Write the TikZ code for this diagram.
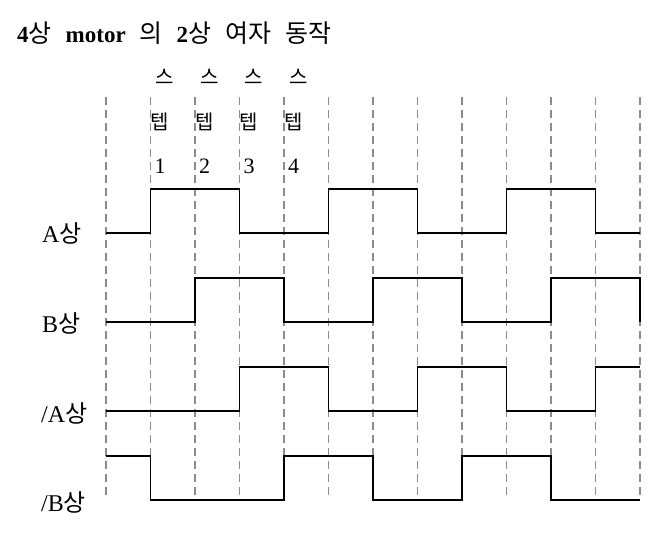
\documentclass[tikz,border=0pt]{standalone}
\usepackage{fontspec}
\setmainfont{Liberation Serif}
\newfontfamily\kr{Noto Sans CJK KR}
\usetikzlibrary{positioning}

\newcommand{\hkr}[1]{{\kr\mdseries\fontsize{25}{25}\selectfont #1}}
\newcommand{\gap}{\hspace{14pt}}

\begin{document}
\begin{tikzpicture}[
    x=1pt, y=-1pt,
    grid/.style={draw=gray!90, line width=1.2pt, dash pattern=on 8pt off 5pt},
    wave/.style={draw=black, line width=1.8pt, line join=miter},
    lbl/.style={anchor=west, inner sep=0pt, font=\fontsize{24}{24}\selectfont},
    steptxt/.style={inner sep=0pt, font=\fontsize{20}{20}\selectfont},
    numtxt/.style={inner sep=0pt, font=\fontsize{22}{22}\selectfont},
    title/.style={anchor=west, inner sep=0pt, font=\fontsize{23}{23}\selectfont\bfseries}
]
    \useasboundingbox (0,0) rectangle (661,535);

    % Title
    \node [title] (head) at (17,33) {4\hkr{상}\gap motor\gap\hkr{의}\gap 2\hkr{상}\gap\hkr{여자}\gap\hkr{동작}};

    % Step labels
    \foreach \i/\n in {1/1, 2/2, 3/3, 4/4} {
        \node [steptxt] (s\n) at (120.5+44.5*\i,77) {\kr 스};
        \node [steptxt] (t\n) at (115.5+44.5*\i,122) {\kr 텝};
        \node [numtxt] (n\n) at (115.5+44.5*\i,166) {\n};
    }

    % Phase labels
    \node [lbl] (pa) at (42,233) {A{\kr 상}};
    \node [lbl] (pb) at (42,323) {B{\kr 상}};
    \node [lbl] (pna) at (41,413) {/A{\kr 상}};
    \node [lbl] (pnb) at (41,502) {/B{\kr 상}};

    % Grid
    \foreach \i in {0,...,12}
        \draw [grid] (106+44.5*\i,97) -- (106+44.5*\i,497);

    % Waves
    \begin{scope}[shift={(106pt,0pt)}, x=44.5pt]
        \draw [wave] (0,233) -- (1,233) -- (1,189) -- (3,189) -- (3,233) -- (5,233) -- (5,189) -- (7,189)
            -- (7,233) -- (9,233) -- (9,189) -- (11,189) -- (11,233) -- (12,233);
        \draw [wave] (0,322) -- (2,322) -- (2,278) -- (4,278) -- (4,322) -- (6,322) -- (6,278) -- (8,278)
            -- (8,322) -- (10,322) -- (10,278) -- (12,278) -- (12,322);
        \draw [wave] (0,411) -- (3,411) -- (3,367) -- (5,367) -- (5,411) -- (7,411) -- (7,367) -- (9,367)
            -- (9,411) -- (11,411) -- (11,367) -- (12,367);
        \draw [wave] (0,456) -- (1,456) -- (1,500) -- (4,500) -- (4,456) -- (6,456) -- (6,500) -- (8,500)
            -- (8,456) -- (10,456) -- (10,500) -- (12,500);
    \end{scope}
\end{tikzpicture}
\end{document}
